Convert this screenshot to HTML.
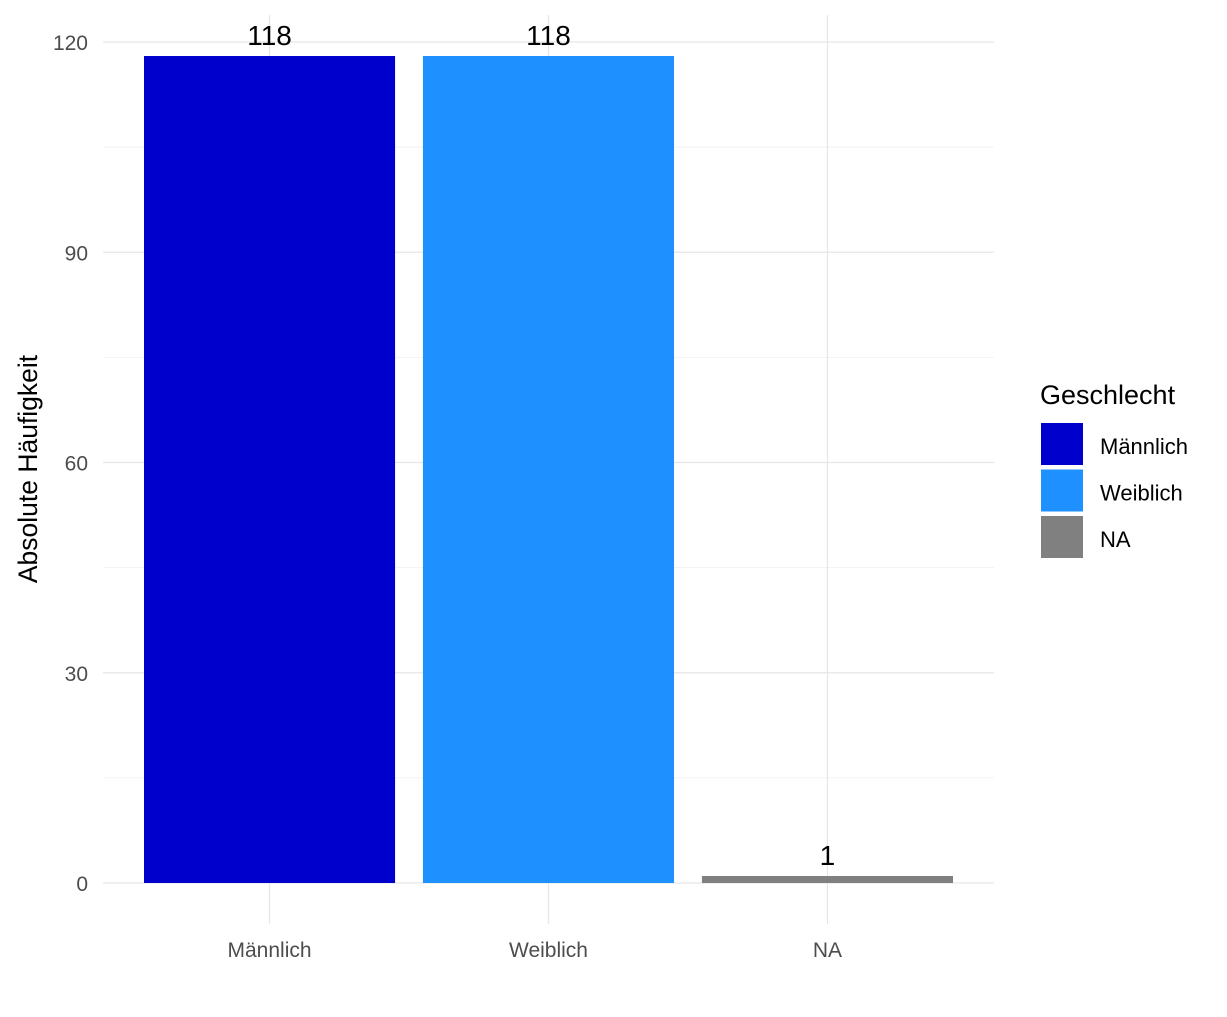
<!DOCTYPE html>
<html><head><meta charset="utf-8"><style>
body{margin:0;background:#fff;}
svg text{font-family:"Liberation Sans",Arial,sans-serif;}
</style></head><body>
<svg id="chart" width="1227" height="1012" xmlns="http://www.w3.org/2000/svg">
<g id="grid"></g><g id="bars"></g><g id="labels"></g>
<text x="0" y="0" transform="translate(37,469) rotate(-90)" text-anchor="middle" font-size="26.5" fill="#000">Absolute Häufigkeit</text>
<g>
<text x="1040" y="404" font-size="27" fill="#000">Geschlecht</text>
<g id="legend"></g>
</g>
</svg>
<script>
const categories=["Männlich","Weiblich","NA"];
const values=[118,118,1];
const colors=["#0000CD","#1E90FF","#808080"];
const yTicks=[0,30,60,90,120];
const yMinor=[15,45,75,105];
const NS="http://www.w3.org/2000/svg";
const panelL=103,panelR=994,panelT=15,panelB=924;
const y0=883,yScale=(42-883)/120;
const y=v=>y0+v*yScale;
const band=(953-144)/(categories.length-0.1);
const xc=i=>144+band*0.45+band*i;
const barW=band*0.9;
function mk(tag,attrs,parent){const e=document.createElementNS(NS,tag);for(const k in attrs)e.setAttribute(k,attrs[k]);parent.appendChild(e);return e;}
const grid=document.getElementById('grid'),bars=document.getElementById('bars'),labels=document.getElementById('labels'),legend=document.getElementById('legend');
yMinor.forEach(t=>{const l=mk('line',{x1:panelL,x2:panelR,y1:y(t),y2:y(t),stroke:'#f2f2f2','stroke-width':1},grid);

});
yTicks.forEach(t=>{const l=mk('line',{x1:panelL,x2:panelR,y1:y(t),y2:y(t),stroke:'#e6e6e6','stroke-width':1.2},grid);


const tx=mk('text',{x:88,y:y(t)+8,'text-anchor':'end','font-size':21,fill:'#4d4d4d'},labels);tx.textContent=t;

});
categories.forEach((c,i)=>{const l=mk('line',{x1:xc(i),x2:xc(i),y1:panelT,y2:panelB,stroke:'#e6e6e6','stroke-width':1.2},grid);


const r=mk('rect',{x:xc(i)-barW/2,y:y(values[i]),width:barW,height:y0-y(values[i]),fill:colors[i]},bars);


const v=mk('text',{x:xc(i),y:y(values[i])-11,'text-anchor':'middle','font-size':28,fill:'#000'},labels);v.textContent=values[i];


const xl=mk('text',{x:xc(i),y:957,'text-anchor':'middle','font-size':21,fill:'#4d4d4d'},labels);xl.textContent=c;


const k=mk('rect',{x:1041,y:423+i*46.5,width:42,height:42,fill:colors[i]},legend);


const lt=mk('text',{x:1100,y:454+i*46.5,'font-size':22,fill:'#000'},legend);lt.textContent=c;

});
</script>
</body></html>
